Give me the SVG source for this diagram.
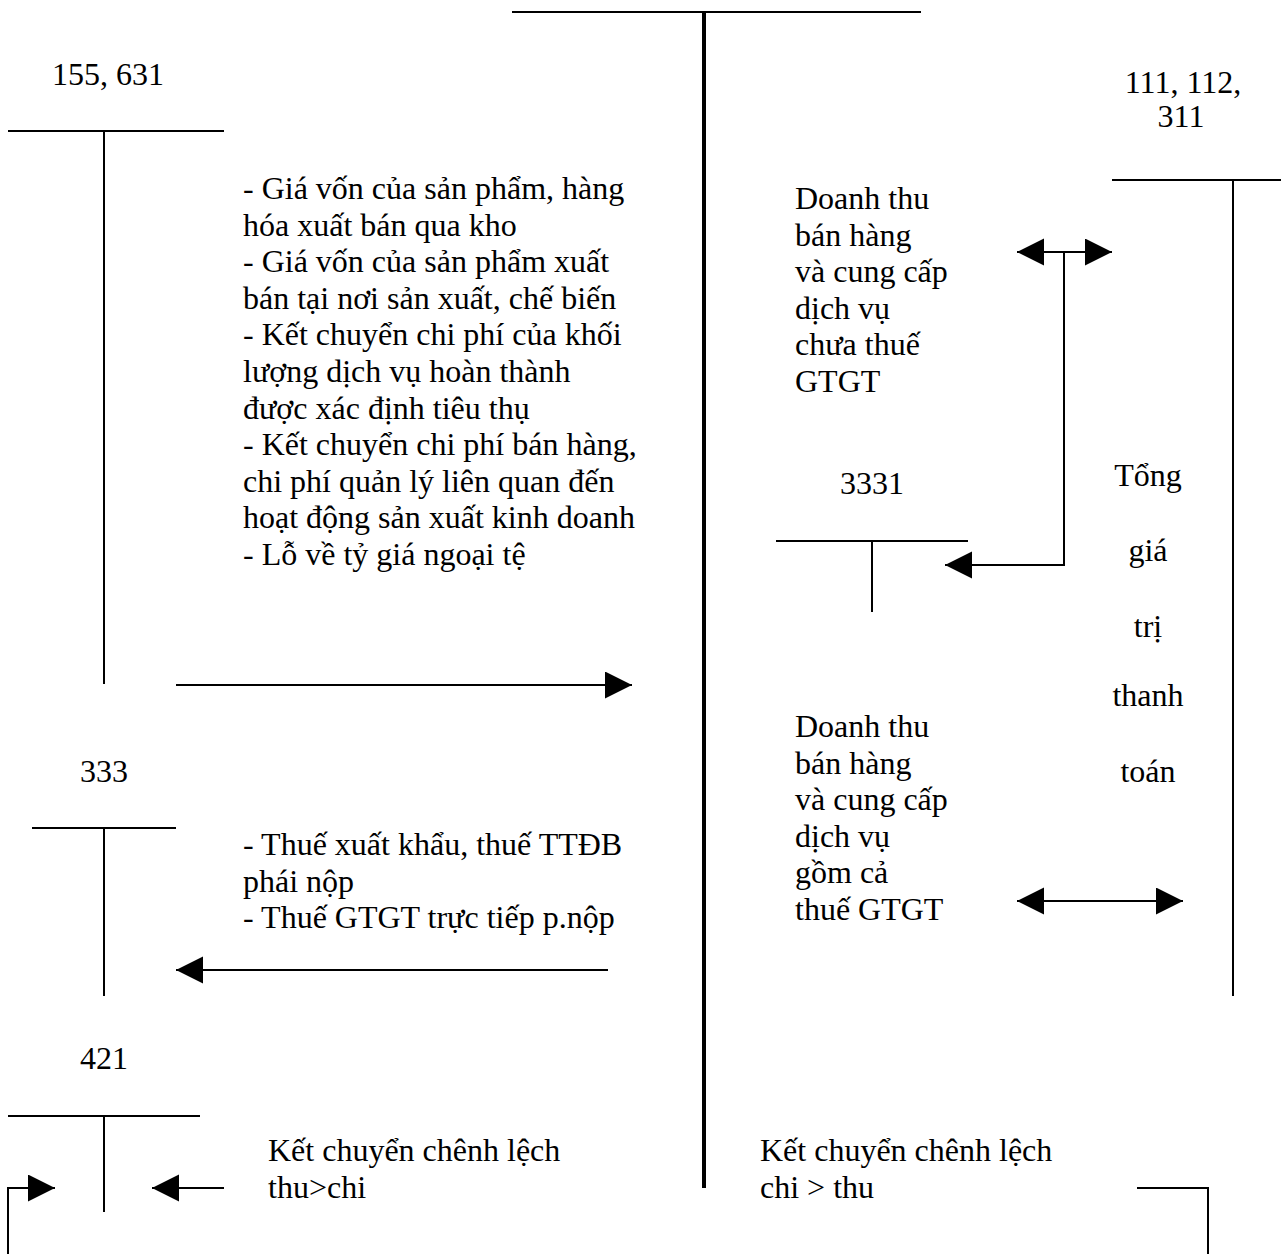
<svg xmlns="http://www.w3.org/2000/svg" width="1281" height="1254" viewBox="0 0 1281 1254">
<style>
text{font-family:"Liberation Serif","Times New Roman",serif;font-size:32px;fill:#000}
.l{stroke:#000;stroke-width:2;fill:none}
.t{stroke:#000;stroke-width:4;fill:none}
.m{text-anchor:middle}
</style>
<defs>
<marker id="ah" markerUnits="userSpaceOnUse" markerWidth="28" markerHeight="28" refX="27" refY="13.5" orient="auto-start-reverse" viewBox="0 0 28 28">
<path d="M0,0 L27,13.5 L0,27 z" fill="#000"/>
</marker>
</defs>
<rect width="1281" height="1254" fill="#fff"/>
<g id="account-911">
<line class="l" x1="512" y1="12" x2="921" y2="12"/>
<line class="t" x1="704" y1="12" x2="704" y2="1188"/>
</g>
<g id="account-155-631">
<text x="52" y="85">155, 631</text>
<line class="l" x1="8" y1="131" x2="224" y2="131"/>
<line class="l" x1="104" y1="131" x2="104" y2="684"/>
</g>
<g id="account-333">
<text x="80" y="782">333</text>
<line class="l" x1="32" y1="828" x2="176" y2="828"/>
<line class="l" x1="104" y1="828" x2="104" y2="996"/>
</g>
<g id="account-421">
<text x="80" y="1069">421</text>
<line class="l" x1="8" y1="1116" x2="200" y2="1116"/>
<line class="l" x1="104" y1="1116" x2="104" y2="1212"/>
</g>
<g id="account-111-112-311">
<text class="m" x="1183" y="93">111, 112,</text>
<text class="m" x="1181" y="127">311</text>
<line class="l" x1="1112" y1="180" x2="1281" y2="180"/>
<line class="l" x1="1233" y1="180" x2="1233" y2="996"/>
</g>
<g id="account-3331">
<text x="840" y="494">3331</text>
<line class="l" x1="776" y1="541" x2="968" y2="541"/>
<line class="l" x1="872" y1="541" x2="872" y2="612"/>
</g>
<g id="label-cost">
<text x="243" y="199">- Giá vốn của sản phẩm, hàng</text>
<text x="243" y="235.6">hóa xuất bán qua kho</text>
<text x="243" y="272.2">- Giá vốn của sản phẩm xuất</text>
<text x="243" y="308.8">bán tại nơi sản xuất, chế biến</text>
<text x="243" y="345.4">- Kết chuyển chi phí của khối</text>
<text x="243" y="382">lượng dịch vụ hoàn thành</text>
<text x="243" y="418.6">được xác định tiêu thụ</text>
<text x="243" y="455.2">- Kết chuyển chi phí bán hàng,</text>
<text x="243" y="491.8">chi phí quản lý liên quan đến</text>
<text x="243" y="528.4">hoạt động sản xuất kinh doanh</text>
<text x="243" y="565">- Lỗ về tỷ giá ngoại tệ</text>
</g>
<g id="label-tax">
<text x="243" y="855">- Thuế xuất khẩu, thuế TTĐB</text>
<text x="243" y="891.6">phái nộp</text>
<text x="243" y="928.2">- Thuế GTGT trực tiếp p.nộp</text>
</g>
<g id="label-profit">
<text x="268" y="1161">Kết chuyển chênh lệch</text>
<text x="268" y="1197.6">thu&gt;chi</text>
</g>
<g id="label-loss">
<text x="760" y="1161">Kết chuyển chênh lệch</text>
<text x="760" y="1197.6">chi &gt; thu</text>
</g>
<g id="label-revenue-net">
<text x="795" y="209">Doanh thu</text>
<text x="795" y="245.6">bán hàng</text>
<text x="795" y="282.2">và cung cấp</text>
<text x="795" y="318.8">dịch vụ</text>
<text x="795" y="355.4">chưa thuế</text>
<text x="795" y="392">GTGT</text>
</g>
<g id="label-revenue-gross">
<text x="795" y="737">Doanh thu</text>
<text x="795" y="773.6">bán hàng</text>
<text x="795" y="810.2">và cung cấp</text>
<text x="795" y="846.8">dịch vụ</text>
<text x="795" y="883.4">gồm cả</text>
<text x="795" y="920">thuế GTGT</text>
</g>
<g id="label-total">
<text class="m" x="1148" y="486">Tổng</text>
<text class="m" x="1148" y="561">giá</text>
<text class="m" x="1148" y="637">trị</text>
<text class="m" x="1148" y="706">thanh</text>
<text class="m" x="1148" y="782">toán</text>
</g>
<g id="connectors">
<line class="l" x1="176" y1="685" x2="632" y2="685" marker-end="url(#ah)"/>
<line class="l" x1="608" y1="970" x2="176" y2="970" marker-end="url(#ah)"/>
<line class="l" x1="224" y1="1188" x2="152" y2="1188" marker-end="url(#ah)"/>
<polyline class="l" points="8,1254 8,1188 55,1188" marker-end="url(#ah)"/>
<line class="l" x1="1017" y1="252" x2="1112" y2="252" marker-start="url(#ah)" marker-end="url(#ah)"/>
<polyline class="l" points="1064,252 1064,565 945,565" marker-end="url(#ah)"/>
<line class="l" x1="1017" y1="901" x2="1183" y2="901" marker-start="url(#ah)" marker-end="url(#ah)"/>
<polyline class="l" points="1137,1188 1208,1188 1208,1254"/>
</g>
</svg>
